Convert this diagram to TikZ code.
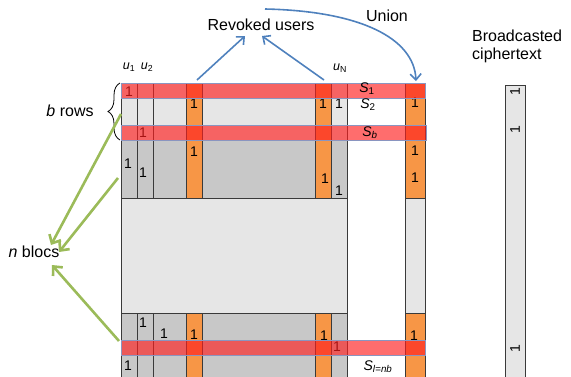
\documentclass[tikz,border=0pt]{standalone}
\usepackage{fontspec}
\setmainfont{Liberation Sans}
\usetikzlibrary{arrows.meta,decorations.pathreplacing}
\definecolor{lightcell}{HTML}{E6E6E6}
\definecolor{darkcell}{HTML}{C8C8C8}
\definecolor{revokedcol}{HTML}{F79646}
\definecolor{edgegray}{HTML}{3A3A3A}
\definecolor{arrowblue}{HTML}{4F81BD}
\definecolor{arrowgreen}{HTML}{9BBB59}
\definecolor{stripred}{HTML}{FF1E1E}
\definecolor{stripedge}{HTML}{8A95C0}

\begin{document}
\begin{tikzpicture}[x=1pt,y=-1pt,
  edge/.style={draw=edgegray,line width=0.8pt},
  strip/.style={fill=stripred,fill opacity=0.65,draw=stripedge,line width=0.6pt},
  bit/.style={font=\fontsize{14}{14}\selectfont,inner sep=0pt},
  lbl/.style={font=\fontsize{16}{18}\selectfont,inner sep=0pt},
  userlbl/.style={font=\fontsize{12.5}{14}\selectfont,inner sep=0pt},
  setlbl/.style={font=\fontsize{14}{14}\selectfont,inner sep=0pt},
  bluearrow/.style={draw=arrowblue,line width=1.6pt,-{Straight Barb[length=6pt,width=11pt]}},
  greenarrow/.style={draw=arrowgreen,line width=2.6pt,-{Straight Barb[length=7pt,width=13pt]}},
]
\useasboundingbox (0,0) rectangle (571,376);

% ---- matrix blocks ----
\fill[lightcell] (121,83) rectangle (347,140);
\fill[darkcell]  (121,140) rectangle (347,198);
\fill[lightcell] (121,198) rectangle (347,313);
\fill[darkcell]  (121,313) rectangle (347,378);

% revoked user columns
\foreach \xa/\xb in {186/202,315/331}{
  \fill[revokedcol] (\xa,83) rectangle (\xb,198);
  \fill[revokedcol] (\xa,313) rectangle (\xb,378);
}

% column rules
\foreach \xx in {121,137,153,186,202,315,331,347}{
  \draw[edge] (\xx,83) -- (\xx,198);
  \draw[edge] (\xx,313) -- (\xx,378);
}
\draw[edge] (121,198) -- (121,313);
\draw[edge] (347,198) -- (347,313);
\draw[edge] (121,83) -- (347,83);
\draw[edge] (121,140) -- (347,140);
\draw[edge] (121,198) -- (347,198);
\draw[edge] (121,313) -- (347,313);
\draw[edge] (186,313) -- (202,313);

% union column
\fill[revokedcol] (405,83) rectangle (425,198);
\fill[lightcell]  (405,198) rectangle (425,313);
\fill[revokedcol] (405,313) rectangle (425,378);
\draw[edge] (405,378) -- (405,83) -- (425,83) -- (425,378);
\draw[edge] (405,198) -- (425,198);
\draw[edge] (405,313) -- (425,313);
\coordinate (unioncol) at (416,81);

% broadcasted ciphertext column
\draw[edge,fill=lightcell] (505,378) -- (505,85) -- (525,85) -- (525,378);

% ---- entries ----
\foreach \px/\py [count=\k] in {129/92,143/133,194/104,323/104,339/104,415/103,
    128/164,143/173,194/152,325/179,339/191,415/151,415/178,
    143/323,164/334,194/335,324/336,337/347,414/336,128/366}{
  \node[bit] (bit\k) at (\px,\py) {1};
}
\foreach \py [count=\k] in {92,130,349}{
  \node[bit,rotate=90] (cbit\k) at (515,\py) {1};
}

% ---- subset strips ----
\draw[strip] (121,83) rectangle (425,98);
\draw[strip] (121,125) rectangle (426,140);
\draw[strip] (121,340) rectangle (425,355);

% ---- labels ----
\node[userlbl] (u1) at (129,67) {\textit{u}\textsubscript{1}};
\node[userlbl] (u2) at (147,67) {\textit{u}\textsubscript{2}};
\node[userlbl] (uN) at (340,68) {\textit{u}\textsubscript{N}};

\node[setlbl] (s1) at (367,89) {\textit{S}\textsubscript{1}};
\node[setlbl] (s2) at (368,105) {\textit{S}\textsubscript{2}};
\node[setlbl] (sb) at (370,133) {\textit{S}\textsubscript{\textit{b}}};
\node[setlbl] (sl) at (378,367) {\textit{S}\textsubscript{\textit{l}=\textit{nb}}};

\node[lbl] (revoked) at (261,25) {Revoked users};
\node[lbl] (union) at (387,16) {Union};
\node[lbl,align=left,anchor=west,font=\fontsize{16}{18}\selectfont] (cipher) at (472,46) {Broadcasted\\ciphertext};
\node[lbl] (brows) at (70,111) {\textit{b} rows};
\node[lbl] (nblocs) at (34,252) {\textit{n} blocs};

% brace over the first b rows
\draw[line width=0.8pt,decorate,decoration={brace,amplitude=12pt}] (120,140) -- (120,83);

% ---- arrows ----
\coordinate (rvA) at (197,80);
\coordinate (rvB) at (324,80);
\draw[bluearrow] (rvA) -- ([shift={(-16,11)}]revoked.center);
\draw[bluearrow] (rvB) -- ([shift={(1,11)}]revoked.center);
\coordinate (unionstart) at (265,9);
\draw[bluearrow] (unionstart) .. controls (360,11) and (414,38) .. (unioncol);

\coordinate (gA) at (121,114);
\coordinate (gB) at (118,178);
\coordinate (gC) at (119,341);
\draw[greenarrow] (gA) -- ([shift={(17,-7)}]nblocs.center);
\draw[greenarrow] (gB) -- ([shift={(25,0)}]nblocs.center);
\draw[greenarrow] (gC) -- ([shift={(18,13)}]nblocs.center);
\end{tikzpicture}
\end{document}
